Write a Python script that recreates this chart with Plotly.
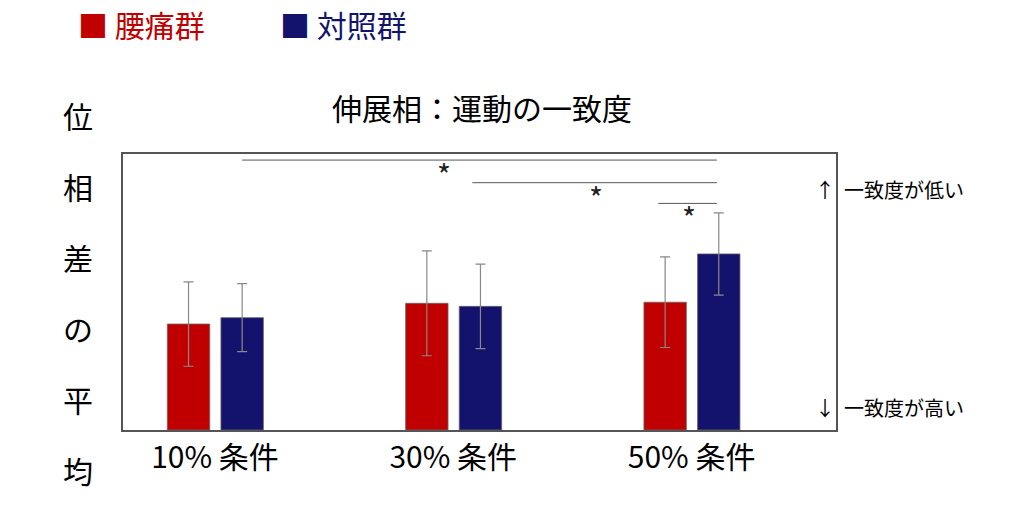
import plotly.graph_objects as go

conditions = ["10% 条件", "30% 条件", "50% 条件"]
low_back = [38.4, 45.9, 46.3]
low_back_err = [15.3, 19.0, 16.4]
control = [40.7, 44.8, 63.8]
control_err = [12.3, 15.3, 14.9]
groups = [0, 1, 2]

FONT = "Noto Sans CJK JP, sans-serif"
RED = "#c00000"
BLUE = "#13136e"

fig = go.Figure()
fig.add_trace(go.Bar(
    x=groups, y=low_back, width=0.178, offset=-0.2,
    marker=dict(color=RED, line=dict(color="#666", width=0.8)),
    error_y=dict(type="data", array=low_back_err, color="#888", thickness=1.2, width=5),
))
fig.add_trace(go.Bar(
    x=groups, y=control, width=0.178, offset=0.025,
    marker=dict(color=BLUE, line=dict(color="#666", width=0.8)),
    error_y=dict(type="data", array=control_err, color="#888", thickness=1.2, width=5),
))

# significance brackets
for x0, x1, y, sx in [(0.114, 2.106, 97.8, 0.96), (1.08, 2.106, 89.6, 1.6), (1.86, 2.106, 82.1, 1.99)]:
    fig.add_shape(type="line", x0=x0, x1=x1, y0=y, y1=y, xref="x", yref="y",
                  line=dict(color="#555", width=1))
    fig.add_annotation(x=sx, y=y - 5, text="*", showarrow=False,
                       font=dict(size=30, color="#222", family=FONT))

# plot area in pixels (window)
L, R, T, B = 115, 821, 146, 414

def pa(px, py, text, size, xanchor="center", color="black"):
    fig.add_annotation(x=(px - L) / (R - L), y=(B - py) / (B - T), xref="paper", yref="paper",
                       text=text, showarrow=False, xanchor=xanchor, yanchor="middle",
                       font=dict(size=size, color=color, family=FONT))

pa(68, 20, "■ 腰痛群", 30, "left", RED)
pa(268, 20, "■ 対照群", 30, "left", BLUE)
pa(470, 100, "伸展相：運動の一致度", 30)
pa(798, 180, "↑  一致度が低い", 20, "left")
pa(798, 392, "↓  一致度が高い", 20, "left")
for i, ch in enumerate("位相差の平均"):
    pa(70, 108 + i * 69, ch, 30)

fig.update_layout(
    width=1024, height=520, showlegend=False, barmode="overlay",
    margin=dict(l=L, r=1024 - R - 7, t=T, b=520 - B - 8),
    plot_bgcolor="white", paper_bgcolor="white",
    font=dict(family=FONT, color="black"),
    xaxis=dict(range=[-0.386, 2.606], tickvals=groups, ticktext=conditions,
               tickfont=dict(size=30), showgrid=False, zeroline=False,
               showline=True, mirror=True, linecolor="#555", linewidth=1.5, ticks=""),
    yaxis=dict(range=[0, 100], showticklabels=False, showgrid=False, zeroline=False,
               showline=True, mirror=True, linecolor="#555", linewidth=1.5, ticks=""),
)
fig.write_html("out.html")
